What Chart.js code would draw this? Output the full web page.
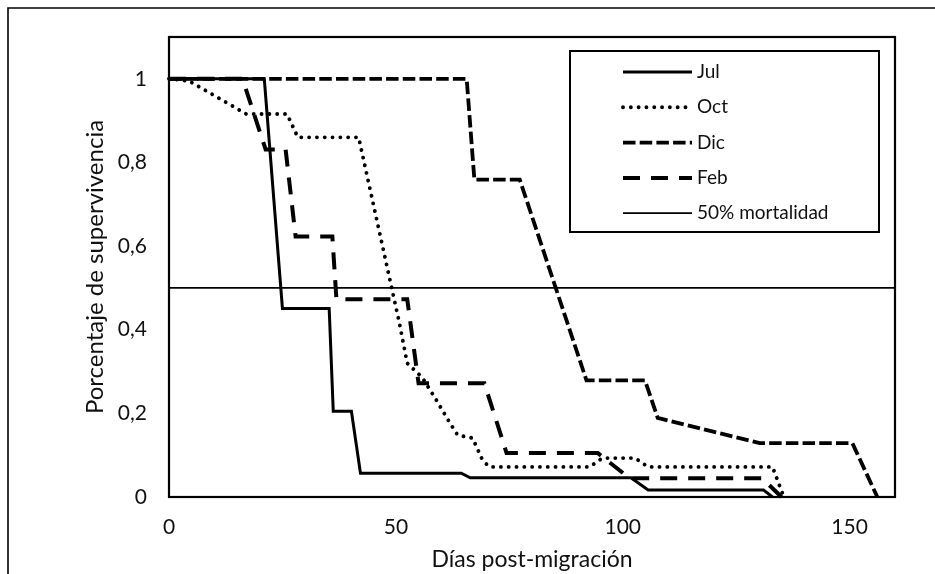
<!DOCTYPE html>
<html><head><meta charset="utf-8">
<script src="https://cdn.jsdelivr.net/npm/chart.js@4"></script>
<style>html,body{margin:0;padding:0;background:#fff;} canvas{display:block;}</style>
</head><body>
<canvas id="c" width="935" height="574"></canvas>
<script>
// ---- data ----
const seriesNames = ['Jul', 'Oct', 'Dic', 'Feb', '50% mortalidad'];
const julDays = [0, 21, 25, 35.3, 36.2, 40.2, 42.2, 64.4, 66.4, 101.8, 105.6, 131, 133];
const julSurv = [1, 1, 0.451, 0.451, 0.205, 0.205, 0.057, 0.057, 0.046, 0.046, 0.017, 0.017, 0];
const octDays = [0, 4.4, 17, 26, 28.4, 41.8, 46.8, 49.2, 50.8, 52.5, 55.8, 58.9, 61.8, 63.6, 66.9, 69.1, 70.6, 92.7, 95.5, 102.7, 105.6, 133, 135.5];
const octSurv = [1, 0.995, 0.916, 0.916, 0.86, 0.86, 0.613, 0.494, 0.415, 0.32, 0.286, 0.232, 0.179, 0.148, 0.141, 0.088, 0.072, 0.072, 0.093, 0.093, 0.072, 0.072, 0];
const dicDays = [0, 65.6, 67.3, 77.3, 92, 104.9, 107.7, 130.2, 150.6, 156.1];
const dicSurv = [1, 1, 0.759, 0.759, 0.279, 0.279, 0.189, 0.129, 0.129, 0];
const febDays = [0, 16.2, 21.3, 25.7, 27.9, 36, 36.9, 52.5, 55, 69.5, 74.4, 94.5, 101.5, 130.7, 135];
const febSurv = [1, 1, 0.831, 0.831, 0.623, 0.623, 0.473, 0.473, 0.272, 0.272, 0.105, 0.105, 0.045, 0.045, 0];
const fiftyDays = [0, 160];
const fiftySurv = [0.5, 0.5];
const xTicks = [0, 50, 100, 150];
const yTicks = [0, 0.2, 0.4, 0.6, 0.8, 1];
const xTitle = 'Días post-migración';
const yTitle = 'Porcentaje de supervivencia';

const zip = (xs, ys) => xs.map((x, i) => ({x: x, y: ys[i]}));
const FONT = 'Lato, "Open Sans", sans-serif';

const styles = [
  {borderWidth: 3, borderDash: [], borderCapStyle: 'butt'},
  {borderWidth: 3.9, borderDash: [0.01, 7.8], borderCapStyle: 'round'},
  {borderWidth: 3.8, borderDash: [12.5, 4.2], borderCapStyle: 'butt'},
  {borderWidth: 4, borderDash: [17, 11], borderCapStyle: 'butt'},
  {borderWidth: 1.8, borderDash: [], borderCapStyle: 'butt'}
];
const seriesData = [zip(julDays, julSurv), zip(octDays, octSurv), zip(dicDays, dicSurv), zip(febDays, febSurv), zip(fiftyDays, fiftySurv)];

const datasets = seriesNames.map((n, i) => Object.assign({
  label: n,
  data: seriesData[i],
  borderColor: '#000',
  backgroundColor: '#000',
  pointRadius: 0,
  tension: 0,
  fill: false,
  clip: false,
  borderJoinStyle: 'miter'
}, styles[i]));

const framePlugin = {
  id: 'frame',
  beforeDraw(chart) {
    const ctx = chart.ctx;
    ctx.save();
    ctx.fillStyle = '#fff';
    ctx.fillRect(0, 0, chart.width, chart.height);
    ctx.strokeStyle = '#000';
    ctx.lineWidth = 1.6;
    ctx.beginPath();
    ctx.moveTo(8, chart.height + 2);
    ctx.lineTo(8, 8);
    ctx.lineTo(chart.width + 2, 8);
    ctx.stroke();
    ctx.restore();
  },
  afterDraw(chart) {
    const ctx = chart.ctx;
    const a = chart.chartArea;
    ctx.save();
    ctx.strokeStyle = '#000';
    ctx.lineWidth = 2.2;
    ctx.setLineDash([]);
    ctx.strokeRect(a.left, a.top, a.right - a.left, a.bottom - a.top);
    // legend box
    const lx0 = 570, ly0 = 51, lx1 = 879, ly1 = 232;
    ctx.fillStyle = '#fff';
    ctx.fillRect(lx0, ly0, lx1 - lx0, ly1 - ly0);
    ctx.lineWidth = 2;
    ctx.strokeRect(lx0, ly0, lx1 - lx0, ly1 - ly0);
    chart.data.datasets.forEach((ds, i) => {
      const y = 72 + i * 35.3;
      ctx.beginPath();
      ctx.setLineDash(ds.borderDash || []);
      ctx.lineCap = ds.borderCapStyle || 'butt';
      ctx.lineWidth = ds.borderWidth;
      ctx.moveTo(623, y);
      ctx.lineTo(692, y);
      ctx.stroke();
      ctx.setLineDash([]);
      ctx.fillStyle = '#111';
      ctx.font = '19px ' + FONT;
      ctx.textAlign = 'left';
      ctx.textBaseline = 'middle';
      ctx.fillText(ds.label, 697, y);
    });
    ctx.restore();
  }
};

const fmt = v => String(Number(v.toFixed(1))).replace('.', ',');

new Chart(document.getElementById('c'), {
  type: 'line',
  data: {datasets: datasets},
  options: {
    responsive: false,
    animation: false,
    layout: {padding: {left: 0, top: 37, right: 40, bottom: 0}},
    plugins: {legend: {display: false}, tooltip: {enabled: false}},
    scales: {
      x: {
        type: 'linear', min: 0, max: 160,
        afterFit: s => { s.height = 77; },
        afterBuildTicks: s => { s.ticks = xTicks.map(v => ({value: v})); },
        grid: {display: false, drawTicks: false},
        border: {display: false},
        ticks: {color: '#111', font: {family: FONT, size: 21}, padding: 18, callback: v => fmt(v), maxRotation: 0},
        title: {display: true, text: xTitle, color: '#111', font: {family: FONT, size: 23}, padding: {top: 0, bottom: 1}}
      },
      y: {
        type: 'linear', min: 0, max: 1.1,
        afterFit: s => { s.width = 169; },
        afterBuildTicks: s => { s.ticks = yTicks.map(v => ({value: v})); },
        grid: {display: false, drawTicks: false},
        border: {display: false},
        ticks: {color: '#111', font: {family: FONT, size: 21}, padding: 22, callback: v => fmt(v)},
        title: {display: true, text: yTitle, color: '#111', font: {family: FONT, size: 24}, padding: {top: 81, bottom: 0}}
      }
    }
  },
  plugins: [framePlugin]
});
</script>
</body></html>
